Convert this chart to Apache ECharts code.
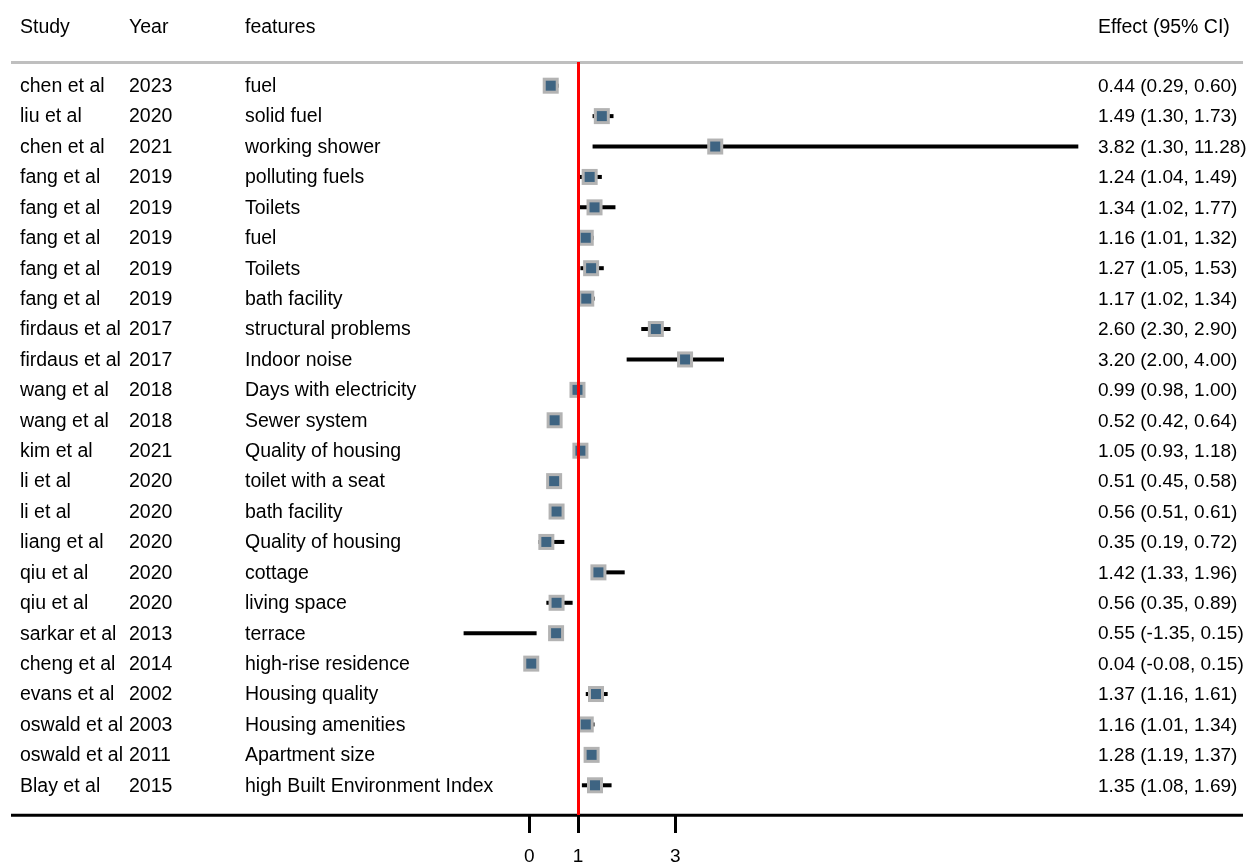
<!DOCTYPE html>
<html>
<head>
<meta charset="utf-8">
<title>Housing features forest plot</title>
<script src="https://cdn.jsdelivr.net/npm/echarts@6/dist/echarts.min.js"></script>
<style>
  html, body { margin: 0; padding: 0; background: #ffffff; }
  #chart { width: 1253px; height: 862px; }
</style>
</head>
<body>
<div id="chart"></div>
<script>
// ---- data ----
const studies = ["chen et al", "liu et al", "chen et al", "fang et al", "fang et al", "fang et al",
  "fang et al", "fang et al", "firdaus et al", "firdaus et al", "wang et al", "wang et al",
  "kim et al", "li et al", "li et al", "liang et al", "qiu et al", "qiu et al", "sarkar et al",
  "cheng et al", "evans et al", "oswald et al", "oswald et al", "Blay et al"];
const years = [2023, 2020, 2021, 2019, 2019, 2019, 2019, 2019, 2017, 2017, 2018, 2018,
  2021, 2020, 2020, 2020, 2020, 2020, 2013, 2014, 2002, 2003, 2011, 2015];
const features = ["fuel", "solid fuel", "working shower", "polluting fuels", "Toilets", "fuel",
  "Toilets", "bath facility", "structural problems", "Indoor noise", "Days with electricity",
  "Sewer system", "Quality of housing", "toilet with a seat", "bath facility", "Quality of housing",
  "cottage", "living space", "terrace", "high-rise residence", "Housing quality",
  "Housing amenities", "Apartment size", "high Built Environment Index"];
const estimates = [0.44, 1.49, 3.82, 1.24, 1.34, 1.16, 1.27, 1.17, 2.60, 3.20, 0.99, 0.52,
  1.05, 0.51, 0.56, 0.35, 1.42, 0.56, 0.55, 0.04, 1.37, 1.16, 1.28, 1.35];
const lowers = [0.29, 1.30, 1.30, 1.04, 1.02, 1.01, 1.05, 1.02, 2.30, 2.00, 0.98, 0.42,
  0.93, 0.45, 0.51, 0.19, 1.33, 0.35, -1.35, -0.08, 1.16, 1.01, 1.19, 1.08];
const uppers = [0.60, 1.73, 11.28, 1.49, 1.77, 1.32, 1.53, 1.34, 2.90, 4.00, 1.00, 0.64,
  1.18, 0.58, 0.61, 0.72, 1.96, 0.89, 0.15, 0.15, 1.61, 1.34, 1.37, 1.69];
const headers = ["Study", "Year", "features", "Effect (95% CI)"];
const tickValues = [0, 1, 3];
const refValue = 1;

// ---- layout ----
const FONT = '"Liberation Sans", Arial, sans-serif';
const FS = 19.5;        // table text
const FS_EFFECT = 19;   // effect column
const FS_TICK = 19;
const colX = [20, 129, 245, 1098];
const TEXT_COLOR = '#000000';

const rows = estimates.map((e, i) => [e, i, lowers[i], uppers[i]]);
const effectText = i =>
  estimates[i].toFixed(2) + ' (' + lowers[i].toFixed(2) + ', ' + uppers[i].toFixed(2) + ')';

const chart = echarts.init(document.getElementById('chart'), null, { renderer: 'canvas' });

function renderRow(params, api) {
  const i = api.value(1);
  const c = api.coord([api.value(0), i]);
  const lo = api.coord([api.value(2), i]);
  const hi = api.coord([api.value(3), i]);
  const y = c[1];
  const children = [];
  // text columns
  const cells = [studies[i], String(years[i]), features[i], effectText(i)];
  cells.forEach((t, k) => {
    const fs = k === 3 ? FS_EFFECT : FS;
    children.push({
      type: 'text',
      x: colX[k], y: y + 1,
      style: { text: t, font: fs + 'px ' + FONT, fill: TEXT_COLOR, verticalAlign: 'middle', align: 'left' }
    });
  });
  // confidence interval
  children.push({
    type: 'line',
    shape: { x1: lo[0], y1: y, x2: hi[0], y2: y },
    style: { stroke: '#000000', lineWidth: 4 }
  });
  // point estimate box
  children.push({
    type: 'rect',
    shape: { x: c[0] - 8, y: y - 8, width: 16, height: 16 },
    style: { fill: '#b3b3b3' }
  });
  children.push({
    type: 'rect',
    shape: { x: c[0] - 5, y: y - 5, width: 10, height: 10 },
    style: { fill: '#3e6482' }
  });
  return { type: 'group', children: children };
}

const option = {
  backgroundColor: '#ffffff',
  animation: false,
  grid: { left: 42.6, right: 42.3, top: 62, bottom: 47, containLabel: false, outerBoundsMode: 'none' },
  xAxis: {
    type: 'value',
    min: -10,
    max: 14,
    position: 'bottom',
    axisLine: { show: false, onZero: false },
    splitLine: { show: false },
    axisTick: {
      show: true,
      customValues: tickValues,
      length: 18,
      lineStyle: { color: '#000000', width: 3 }
    },
    axisLabel: {
      show: true,
      customValues: tickValues,
      margin: 32,
      fontSize: FS_TICK,
      fontFamily: FONT,
      color: TEXT_COLOR,
      formatter: v => String(v)
    }
  },
  yAxis: {
    type: 'value',
    inverse: true,
    min: -0.779,
    max: 23.977,
    show: false
  },
  graphic: [
    // column headers
    ...headers.map((h, k) => ({
      type: 'text', x: colX[k], y: 27.5,
      style: { text: h, font: FS + 'px ' + FONT, fill: TEXT_COLOR, verticalAlign: 'middle', align: 'left' }
    })),
    // header rule
    {
      type: 'line', z: 1,
      shape: { x1: 11, y1: 62.5, x2: 1243, y2: 62.5 },
      style: { stroke: '#bfbfbf', lineWidth: 3 }
    },
    // bottom rule (axis line spanning the table)
    {
      type: 'line', z: 1,
      shape: { x1: 11, y1: 815.3, x2: 1243, y2: 815.3 },
      style: { stroke: '#000000', lineWidth: 3 }
    }
  ],
  series: [
    {
      type: 'custom',
      z: 2,
      renderItem: renderRow,
      encode: { x: [0, 2, 3], y: 1 },
      data: rows,
      silent: true
    },
    {
      type: 'line',
      z: 5,
      data: [],
      silent: true,
      markLine: {
        silent: true,
        symbol: ['none', 'none'],
        label: { show: false },
        lineStyle: { color: '#ff0000', width: 3, type: 'solid' },
        data: [{ xAxis: refValue }]
      }
    }
  ]
};

chart.setOption(option);
</script>
</body>
</html>
